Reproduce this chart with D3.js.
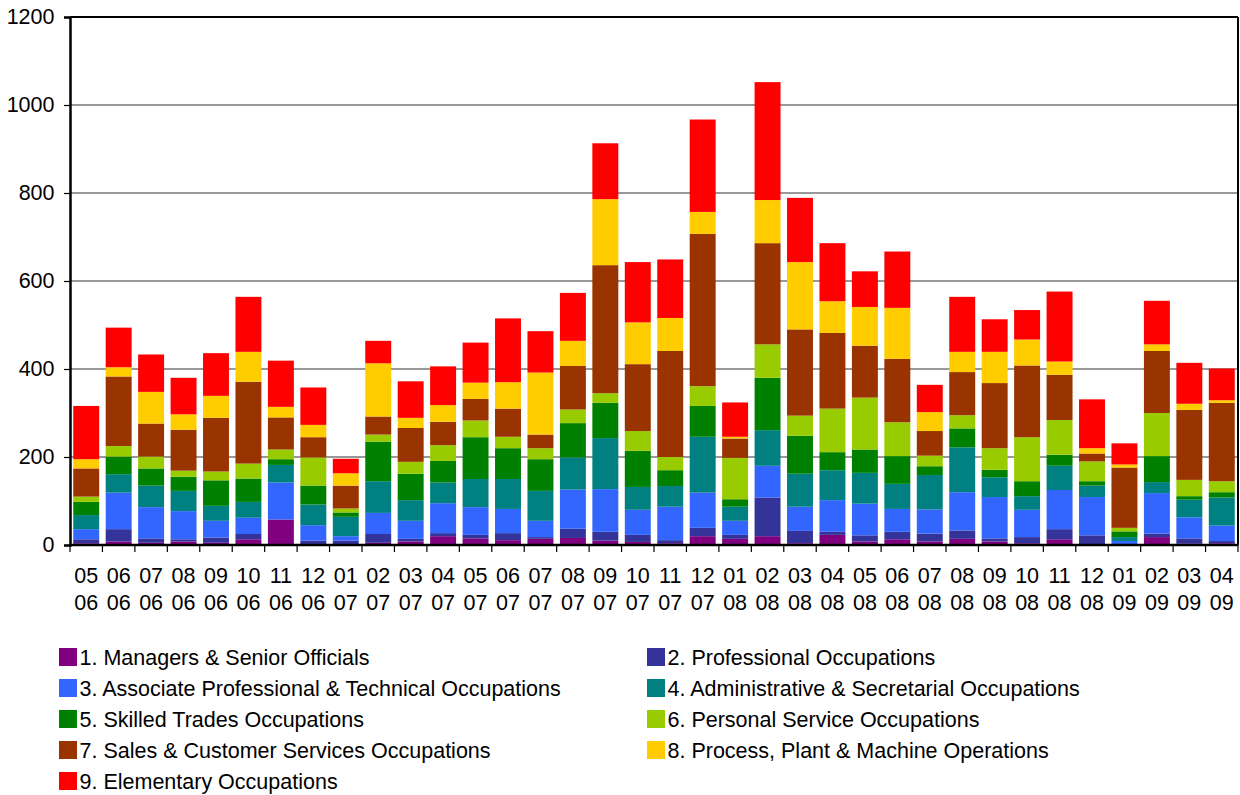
<!DOCTYPE html>
<html>
<head>
<meta charset="utf-8">
<script src="https://cdn.jsdelivr.net/npm/d3@7"></script>
<style>
  html, body { margin: 0; padding: 0; background: #fff; }
  svg { display: block; }
  text { font-family: "Liberation Sans", Arial, sans-serif; fill: #000; }
</style>
</head>
<body>
<svg id="chart" width="1240" height="795"></svg>
<script>
const months = ["05","06","07","08","09","10","11","12",
  "01","02","03","04","05","06","07","08","09","10","11","12",
  "01","02","03","04","05","06","07","08","09","10","11","12",
  "01","02","03","04"];
const years = ["06","06","06","06","06","06","06","06",
  "07","07","07","07","07","07","07","07","07","07","07","07",
  "08","08","08","08","08","08","08","08","08","08","08","08",
  "09","09","09","09"];

const seriesNames = [
  "1. Managers & Senior Officials",
  "2. Professional Occupations",
  "3. Associate Professional & Technical Occupations",
  "4. Administrative & Secretarial Occupations",
  "5. Skilled Trades Occupations",
  "6. Personal Service Occupations",
  "7. Sales & Customer Services Occupations",
  "8. Process, Plant & Machine Operations",
  "9. Elementary Occupations"
];
const seriesColors = ["#800080","#333399","#3366FF","#008080","#008000","#99CC00","#993300","#FFCC00","#FF0000"];

const managers = [4,8,5,8,5,13,58,2,2, 5,8,20,15,11,14,16,10,7,4,20, 14,20,4,23,8,13,8,14,8,4,13,2, 0,18,3,4];
const professional = [9,28,10,5,12,12,0,8,8, 20,6,7,8,16,4,21,20,16,7,19, 9,88,28,7,14,17,18,19,7,14,23,20, 1,8,12,5];
const associate = [23,83,71,64,38,37,84,35,10, 48,41,68,63,55,37,89,97,57,76,80, 32,72,55,72,72,52,55,87,94,62,89,87, 8,92,48,35];
const administrative = [32,42,49,46,34,36,40,47,44, 72,47,47,64,68,68,73,116,52,47,127, 32,81,75,68,70,57,78,102,45,31,55,26, 9,25,40,64];
const skilledTrades = [30,40,39,32,58,53,13,43,10, 90,60,49,95,70,72,78,80,82,36,70, 17,119,86,41,53,63,20,43,17,34,25,10, 13,59,8,12];
const personalService = [12,24,27,14,20,34,22,64,9, 16,27,36,38,26,25,31,22,45,30,45, 94,76,46,99,118,77,24,30,49,100,79,45, 8,98,37,25];
const sales = [64,158,75,93,122,186,73,46,52, 41,77,53,49,64,31,99,291,152,241,346, 44,230,196,172,118,144,56,98,148,163,103,18, 137,141,159,178];
const processPlant = [21,21,72,35,50,68,24,28,28, 121,23,38,37,60,141,57,150,95,75,50, 4,98,153,72,88,116,43,46,71,59,30,12, 7,15,14,6];
const elementary = [121,90,85,83,97,125,105,85,33, 51,83,88,91,145,94,109,127,137,133,210, 78,268,146,132,81,128,62,125,74,67,159,111, 48,99,93,72];

const yTicks = [0,200,400,600,800,1000,1200];

const seriesValues = [managers, professional, associate, administrative, skilledTrades,
  personalService, sales, processPlant, elementary];

const keys = seriesNames.map((_, i) => "s" + i);
const table = months.map((m, j) => {
  const row = { cat: m + "/" + years[j], month: m, year: years[j] };
  keys.forEach((k, i) => row[k] = seriesValues[i][j]);
  return row;
});

const FS = 21.5;
const svg = d3.select("#chart");
const plotLeft = 70, plotRight = 1238, plotTop = 17, plotBottom = 545;

const x = d3.scaleBand().domain(table.map(d => d.cat)).range([plotLeft, plotRight])
  .paddingInner(0.2).paddingOuter(0.1);
const y = d3.scaleLinear().domain([0, 1200]).range([plotBottom, plotTop]);

// gridlines
svg.append("g").selectAll("line").data(yTicks.filter(t => t > 0 && t < 1200)).join("line")
  .attr("x1", plotLeft).attr("x2", plotRight)
  .attr("y1", d => y(d)).attr("y2", d => y(d))
  .attr("stroke", "#333").attr("stroke-width", 1.2);

// stacked bars
const stack = d3.stack().keys(keys)(table);
svg.append("g").selectAll("g").data(stack).join("g")
  .attr("fill", (d, i) => seriesColors[i])
  .selectAll("rect").data(d => d).join("rect")
  .attr("x", d => x(d.data.cat))
  .attr("width", x.bandwidth())
  .attr("y", d => y(d[1]))
  .attr("height", d => Math.max(0, y(d[0]) - y(d[1])));

// frame top/right
svg.append("line").attr("x1", plotLeft).attr("x2", plotRight).attr("y1", y(1200)).attr("y2", y(1200))
  .attr("stroke", "#000").attr("stroke-width", 2);
svg.append("line").attr("x1", plotRight).attr("x2", plotRight).attr("y1", plotTop).attr("y2", plotBottom)
  .attr("stroke", "#000").attr("stroke-width", 2);

// y axis
const yAxis = d3.axisLeft(y).tickValues(yTicks).tickSize(6).tickPadding(9.5).tickFormat(d3.format("d"));
const yg = svg.append("g").attr("transform", `translate(${plotLeft},0)`).call(yAxis);
yg.select(".domain").attr("stroke", "#000").attr("stroke-width", 2.5);
yg.selectAll(".tick line").attr("stroke", "#000").attr("stroke-width", 1.2);
yg.selectAll(".tick text").attr("font-size", FS).attr("font-family", "Liberation Sans, Arial, sans-serif").attr("fill", "#000");

// x axis
svg.append("line").attr("x1", plotLeft).attr("x2", plotRight).attr("y1", plotBottom).attr("y2", plotBottom)
  .attr("stroke", "#000").attr("stroke-width", 2.5);
const step = x.step();
const bounds = table.map(d => x(d.cat) - step * 0.1).concat([plotRight]);
svg.append("g").selectAll("line").data(bounds).join("line")
  .attr("x1", d => d).attr("x2", d => d).attr("y1", plotBottom).attr("y2", plotBottom + 7)
  .attr("stroke", "#000").attr("stroke-width", 1.2);
const xl = svg.append("g").selectAll("text").data(table).join("text")
  .attr("text-anchor", "middle").attr("font-size", FS)
  .attr("x", d => x(d.cat) + x.bandwidth() / 2);
xl.append("tspan").attr("x", d => x(d.cat) + x.bandwidth() / 2).attr("y", 583.3).text(d => d.month);
xl.append("tspan").attr("x", d => x(d.cat) + x.bandwidth() / 2).attr("y", 610.3).text(d => d.year);

// legend
const lg = svg.append("g").selectAll("g").data(seriesNames).join("g")
  .attr("transform", (d, i) => `translate(${i % 2 === 0 ? 59 : 647},${648 + Math.floor(i / 2) * 31})`);
lg.append("rect").attr("width", 18).attr("height", 18).attr("fill", (d, i) => seriesColors[i]);
lg.append("text").attr("x", 20.5).attr("y", 17).attr("font-size", FS).text(d => d);
</script>
</body>
</html>
